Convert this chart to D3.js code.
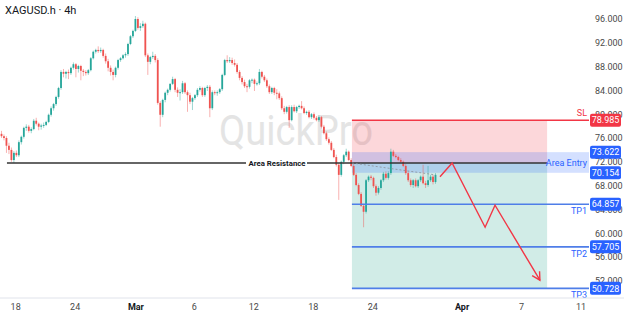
<!DOCTYPE html>
<html>
<head>
<meta charset="utf-8">
<script src="https://cdn.jsdelivr.net/npm/d3@7/dist/d3.min.js"></script>
<style>
  body { margin: 0; background: #fff; }
  svg { display: block; font-family: Roboto, "Noto Sans", sans-serif; }
</style>
</head>
<body>
<svg id="chart"></svg>
<script>
// 4h candles, [open, high, low, close]
const candles = [
  [76.7,77.2,76.0,76.3],[76.3,76.6,75.6,76.0],[76.0,76.3,73.5,74.7],[74.7,75.2,73.3,74.0],[74.0,74.4,72.0,72.3],
  [72.3,73.8,71.8,73.5],[73.5,73.9,72.8,73.1],[73.1,75.6,72.8,75.3],[75.3,76.4,74.9,76.2],[76.2,77.9,75.9,77.7],
  [77.7,78.3,77.2,77.9],[77.9,78.2,76.9,77.2],[77.2,77.8,76.8,77.5],[77.5,79.2,77.3,78.9],[78.9,79.4,78.1,78.4],
  [78.4,78.6,77.3,77.9],[77.9,78.4,77.4,78.1],[78.1,78.6,77.7,78.2],[78.2,78.9,78.0,78.7],[78.7,80.1,78.5,79.9],
  [79.9,81.3,79.6,81.0],[81.0,81.9,80.6,81.7],[81.7,83.1,81.4,82.9],[82.9,84.6,82.6,84.4],[84.4,87.4,84.1,87.1],
  [87.1,87.6,86.2,86.8],[86.8,87.3,86.0,87.1],[87.1,87.5,85.9,86.9],[86.9,88.0,86.6,87.8],[87.8,88.7,87.5,88.4],
  [88.4,88.6,86.2,87.6],[87.6,88.3,87.0,88.1],[88.1,88.3,85.7,87.3],[87.3,87.6,86.4,87.1],[87.1,87.4,86.5,86.9],
  [86.9,87.6,86.6,87.4],[87.4,89.6,87.2,89.4],[89.4,90.7,89.2,90.5],[90.5,91.0,90.2,90.8],[90.8,91.4,90.3,90.6],
  [90.6,91.2,90.3,90.8],[90.8,91.0,89.5,89.8],[89.8,90.2,88.5,88.9],[88.9,89.3,87.2,87.8],[87.8,88.2,86.5,87.1],
  [87.1,87.5,85.7,86.6],[86.6,88.0,86.2,87.8],[87.8,89.3,87.5,89.1],[89.1,89.6,88.8,89.4],[89.4,90.1,89.2,89.9],
  [89.9,90.4,89.5,90.1],[90.1,92.0,89.8,91.8],[91.8,93.3,91.6,93.1],[93.1,94.2,92.8,94.0],[94.0,96.5,93.8,96.0],
  [96.0,96.3,94.2,94.5],[94.5,95.3,94.0,94.8],[94.8,95.7,94.5,95.2],[95.2,95.4,89.6,89.9],[89.9,90.2,86.6,88.8],
  [88.8,89.8,88.4,89.6],[89.6,90.5,89.3,89.8],[89.8,90.1,88.7,89.1],[89.1,89.4,81.6,81.9],[81.9,82.2,77.9,79.9],
  [79.9,82.6,79.5,82.4],[82.4,83.8,82.0,83.6],[83.6,84.3,83.2,84.1],[84.1,85.2,83.8,85.1],[85.1,86.3,84.9,85.9],
  [85.9,86.1,83.7,84.1],[84.1,84.5,82.9,83.6],[83.6,84.2,82.3,83.7],[83.7,85.6,83.4,85.2],[85.2,85.4,83.4,83.7],
  [83.7,84.0,80.4,83.2],[83.2,83.6,81.7,82.1],[82.1,82.9,80.7,82.7],[82.7,83.4,82.4,83.2],[83.2,84.4,82.9,84.1],
  [84.1,84.7,83.8,84.4],[84.4,84.6,82.9,83.2],[83.2,84.6,82.9,84.4],[84.4,84.9,83.9,84.6],[84.6,84.9,79.5,81.0],
  [81.0,84.0,80.7,83.7],[83.7,84.0,83.2,83.6],[83.6,84.0,83.1,83.7],[83.7,84.4,83.4,84.2],[84.2,86.8,83.9,86.6],
  [86.6,89.3,86.4,89.1],[89.1,89.9,88.6,88.9],[88.9,89.6,88.6,89.1],[89.1,89.5,88.3,88.6],[88.6,89.2,88.0,88.3],
  [88.3,88.6,86.8,87.1],[87.1,87.4,85.7,86.1],[86.1,86.4,85.0,85.4],[85.4,85.8,84.4,84.7],[84.7,85.1,83.7,84.6],
  [84.6,85.9,84.3,85.7],[85.7,86.0,85.2,85.8],[85.8,86.0,83.9,85.1],[85.1,85.5,84.8,85.2],[85.2,87.6,84.9,87.1],
  [87.1,87.3,86.0,86.3],[86.3,86.6,85.4,85.7],[85.7,86.0,84.4,84.7],[84.7,85.0,83.4,83.7],[83.7,84.6,83.4,84.4],
  [84.4,84.6,83.2,83.6],[83.6,84.2,82.5,83.5],[83.5,83.8,82.4,82.7],[82.7,83.0,80.7,81.0],[81.0,81.4,80.0,80.4],
  [80.4,81.4,80.1,81.2],[81.2,81.5,77.7,79.0],[79.0,81.5,78.8,81.2],[81.2,81.6,80.3,80.5],[80.5,81.4,80.2,81.2],
  [81.2,81.6,80.9,81.4],[81.4,82.2,80.8,81.0],[81.0,81.3,80.0,80.2],[80.2,80.6,79.9,80.4],[80.4,80.7,79.3,79.5],
  [79.5,80.2,79.2,80.0],[80.0,80.3,79.1,79.4],[79.4,79.7,78.8,79.0],[79.0,79.8,78.7,79.5],[79.5,79.7,77.6,77.9],
  [77.9,78.2,76.6,76.8],[76.8,77.1,75.5,75.8],[75.8,76.1,74.9,75.2],[75.2,75.5,73.8,74.0],[74.0,74.3,72.6,72.8],
  [72.8,73.2,71.2,71.5],[71.5,71.8,65.6,69.8],[69.8,72.2,69.5,72.0],[72.0,73.3,71.6,73.1],[73.1,74.2,72.8,73.7],
  [73.7,73.9,72.1,72.3],[72.3,72.6,71.1,71.3],[71.3,71.6,69.6,69.8],[69.8,70.1,67.9,68.1],[68.1,68.4,66.4,66.6],
  [66.6,66.9,64.4,64.6],[64.6,64.9,61.0,63.6],[63.6,69.1,63.3,68.9],[68.9,69.7,68.6,69.5],[69.5,69.8,68.9,69.3],
  [69.3,69.5,67.6,67.9],[67.9,68.2,66.3,66.8],[66.8,67.9,66.5,67.6],[67.6,69.1,67.3,68.9],[68.9,70.3,68.6,70.0],
  [70.0,70.4,69.0,69.3],[69.3,70.4,69.0,70.1],[70.1,74.2,69.8,73.7],[73.7,74.0,72.8,73.0],[73.0,73.3,72.6,72.8],
  [72.8,73.0,72.1,72.3],[72.3,72.6,71.8,72.0],[72.0,72.2,71.1,71.3],[71.3,71.6,69.8,70.1],[70.1,70.4,68.6,68.9],
  [68.9,69.2,67.8,68.1],[68.1,69.1,67.6,68.9],[68.9,69.2,67.7,67.9],[67.9,69.1,67.6,68.9],[68.9,69.7,68.6,69.5],
  [69.5,71.5,68.2,68.4],[68.4,68.8,67.6,68.1],[68.1,71.3,67.8,68.9],[68.9,69.8,68.6,69.5],[69.5,69.8,68.2,68.6],
  [68.6,70.1,68.3,69.8]
];

const priceTicks = [52, 56, 60, 64, 68, 72, 76, 80, 84, 88, 92, 96];
const timeTicks = [5.5, 29.5, 54, 77.5, 101.5, 125.5, 149.5, 185.5, 209.5, 233.5];
const timeLabels = ["18", "24", "Mar", "6", "12", "18", "24", "Apr", "7", "11"];

const stopLoss = 78.985;
const entryTop = 73.622;
const entryBottom = 70.154;
const entryPrice = 71.8;
const targets = [64.857, 57.705, 50.728];
const targetNames = ["TP1", "TP2", "TP3"];
const resistance = 71.8;
const resistanceStart = 2.2;
const zoneStart = 141.3;
const zoneEnd = 220;
const projection = [[176.8, 69.5], [181.7, 71.8], [195, 61.0], [199, 64.7], [217.1, 52.1]];

const W = 624, H = 316;
const plotRight = 589;
const axisY = 298;

const svg = d3.select("#chart").attr("width", W).attr("height", H);

const x = d3.scaleLinear().domain([0, 100]).range([1.5, 249.5]);
const y = d3.scaleLinear().domain([52, 96]).range([280.8, 19]);

const up = "#26a69a", down = "#ef5350";
const red = "#f23645", blue = "#2962ff", tpBlue = "#4f7ee8";

// watermark
svg.append("text")
    .attr("x", 219).attr("y", 145)
    .attr("font-size", 42)
    .attr("textLength", 154)
    .attr("lengthAdjust", "spacingAndGlyphs")
    .attr("fill", "#e4e4e4")
    .text("QuickPro");

// risk / reward zones
svg.append("rect")
    .attr("x", x(zoneStart)).attr("width", x(zoneEnd) - x(zoneStart))
    .attr("y", y(stopLoss)).attr("height", y(entryPrice) - y(stopLoss))
    .attr("fill", "rgba(242,54,69,0.2)");
svg.append("rect")
    .attr("x", x(zoneStart)).attr("width", x(zoneEnd) - x(zoneStart))
    .attr("y", y(entryPrice)).attr("height", y(targets[2]) - y(entryPrice))
    .attr("fill", "rgba(8,153,129,0.19)");
svg.append("rect")
    .attr("x", x(zoneStart)).attr("width", plotRight - x(zoneStart))
    .attr("y", y(entryTop)).attr("height", y(entryBottom) - y(entryTop))
    .attr("fill", "rgba(41,98,255,0.2)");

// candles
const g = svg.append("g");
g.selectAll("line.wick")
    .data(candles)
    .enter().append("line")
    .attr("x1", (d, i) => x(i)).attr("x2", (d, i) => x(i))
    .attr("y1", d => y(d[1])).attr("y2", d => y(d[2]))
    .attr("stroke", d => d[3] >= d[0] ? up : down)
    .attr("stroke-opacity", 0.45)
    .attr("stroke-width", 1);
g.selectAll("rect.body")
    .data(candles)
    .enter().append("rect")
    .attr("x", (d, i) => x(i) - 0.9)
    .attr("width", 1.8)
    .attr("y", d => y(Math.max(d[0], d[3])))
    .attr("height", d => Math.max(1, Math.abs(y(d[0]) - y(d[3]))))
    .attr("fill", d => d[3] >= d[0] ? up : down);

// area resistance
svg.append("line")
    .attr("x1", x(resistanceStart)).attr("x2", x(zoneEnd))
    .attr("y1", y(resistance)).attr("y2", y(resistance))
    .attr("stroke", "#333").attr("stroke-width", 1.6);
svg.append("rect")
    .attr("x", 246).attr("y", y(resistance) - 5).attr("width", 61).attr("height", 10)
    .attr("fill", "#fff");
svg.append("text")
    .attr("x", 277).attr("y", y(resistance)).attr("dy", "0.35em")
    .attr("text-anchor", "middle")
    .attr("font-size", 7.8).attr("font-weight", "bold").attr("fill", "#131722")
    .text("Area Resistance");

// dashed entry → current
const last = candles.length - 1;
svg.append("line")
    .attr("x1", x(zoneStart)).attr("y1", y(entryPrice))
    .attr("x2", x(last)).attr("y2", y(candles[last][3]))
    .attr("stroke", "#8a8f99").attr("stroke-width", 0.8)
    .attr("stroke-dasharray", "2,2");

// SL and TP lines
svg.append("line")
    .attr("x1", x(zoneStart)).attr("x2", plotRight)
    .attr("y1", y(stopLoss)).attr("y2", y(stopLoss))
    .attr("stroke", red).attr("stroke-width", 1.4);
svg.selectAll("line.tp")
    .data(targets)
    .enter().append("line")
    .attr("x1", x(zoneStart)).attr("x2", plotRight)
    .attr("y1", d => y(d)).attr("y2", d => y(d))
    .attr("stroke", tpBlue).attr("stroke-width", 1.6);

// projected path
const path = d3.line().x(d => x(d[0])).y(d => y(d[1]));
svg.append("path")
    .datum(projection)
    .attr("d", path)
    .attr("fill", "none")
    .attr("stroke", red).attr("stroke-width", 1.4)
    .attr("stroke-linejoin", "miter");
const p1 = projection[projection.length - 2], p2 = projection[projection.length - 1];
const tx = x(p2[0]), ty = y(p2[1]);
const ang = Math.atan2(ty - y(p1[1]), tx - x(p1[0]));
const head = [ang + Math.PI - 0.5, ang + Math.PI + 0.5].map(a => [tx + 9 * Math.cos(a), ty + 9 * Math.sin(a)]);
svg.append("path")
    .attr("d", `M${head[0][0]},${head[0][1]}L${tx},${ty}L${head[1][0]},${head[1][1]}`)
    .attr("fill", "none").attr("stroke", red).attr("stroke-width", 1.4);

// level captions
svg.append("text")
    .attr("x", 587).attr("y", y(stopLoss) - 4)
    .attr("text-anchor", "end").attr("font-size", 9).attr("fill", red)
    .text("SL");
svg.append("text")
    .attr("x", 587).attr("y", y((entryTop + entryBottom) / 2)).attr("dy", "0.35em")
    .attr("text-anchor", "end").attr("font-size", 9).attr("fill", blue)
    .text("Area Entry");
svg.selectAll("text.tp")
    .data(targets)
    .enter().append("text")
    .attr("x", 587).attr("y", d => y(d) + 10)
    .attr("text-anchor", "end").attr("font-size", 9).attr("fill", blue)
    .text((d, i) => targetNames[i]);

// axes
svg.append("line")
    .attr("x1", 0).attr("x2", W).attr("y1", axisY).attr("y2", axisY)
    .attr("stroke", "#e0e3eb");

const yAxis = svg.append("g")
    .attr("transform", `translate(${plotRight},0)`)
    .call(d3.axisRight(y).tickValues(priceTicks).tickFormat(d3.format(".3f")).tickSize(0).tickPadding(6));
yAxis.select(".domain").remove();
yAxis.selectAll("text").attr("font-size", 9).attr("fill", "#4a4a4a").attr("font-family", "Roboto, sans-serif");

const xAxis = svg.append("g")
    .attr("transform", `translate(0,${axisY})`)
    .call(d3.axisBottom(x).tickValues(timeTicks).tickFormat((d, i) => timeLabels[i]).tickSize(0).tickPadding(6));
xAxis.select(".domain").remove();
xAxis.selectAll("text")
    .attr("font-size", 9).attr("font-family", "Roboto, sans-serif")
    .attr("fill", (d, i) => isNaN(+timeLabels[i]) ? "#131722" : "#4a4a4a")
    .attr("font-weight", (d, i) => isNaN(+timeLabels[i]) ? "bold" : "normal");

// price labels on the scale
const tags = [{ p: stopLoss, c: red }, { p: entryTop, c: blue }, { p: entryBottom, c: blue }]
    .concat(targets.map(t => ({ p: t, c: blue })));
const tag = svg.selectAll("g.tag").data(tags).enter().append("g")
    .attr("transform", d => `translate(590,${y(d.p)})`);
tag.append("rect")
    .attr("x", 0).attr("y", -6.5).attr("width", 31).attr("height", 13).attr("rx", 2)
    .attr("fill", d => d.c);
tag.append("text")
    .attr("x", 15.5).attr("dy", "0.35em").attr("text-anchor", "middle")
    .attr("font-size", 9).attr("fill", "#fff")
    .text(d => d.p.toFixed(3));

// title
svg.append("text")
    .attr("x", 5).attr("y", 14)
    .attr("font-size", 11).attr("fill", "#131722")
    .text("XAGUSD.h · 4h");
</script>
</body>
</html>
